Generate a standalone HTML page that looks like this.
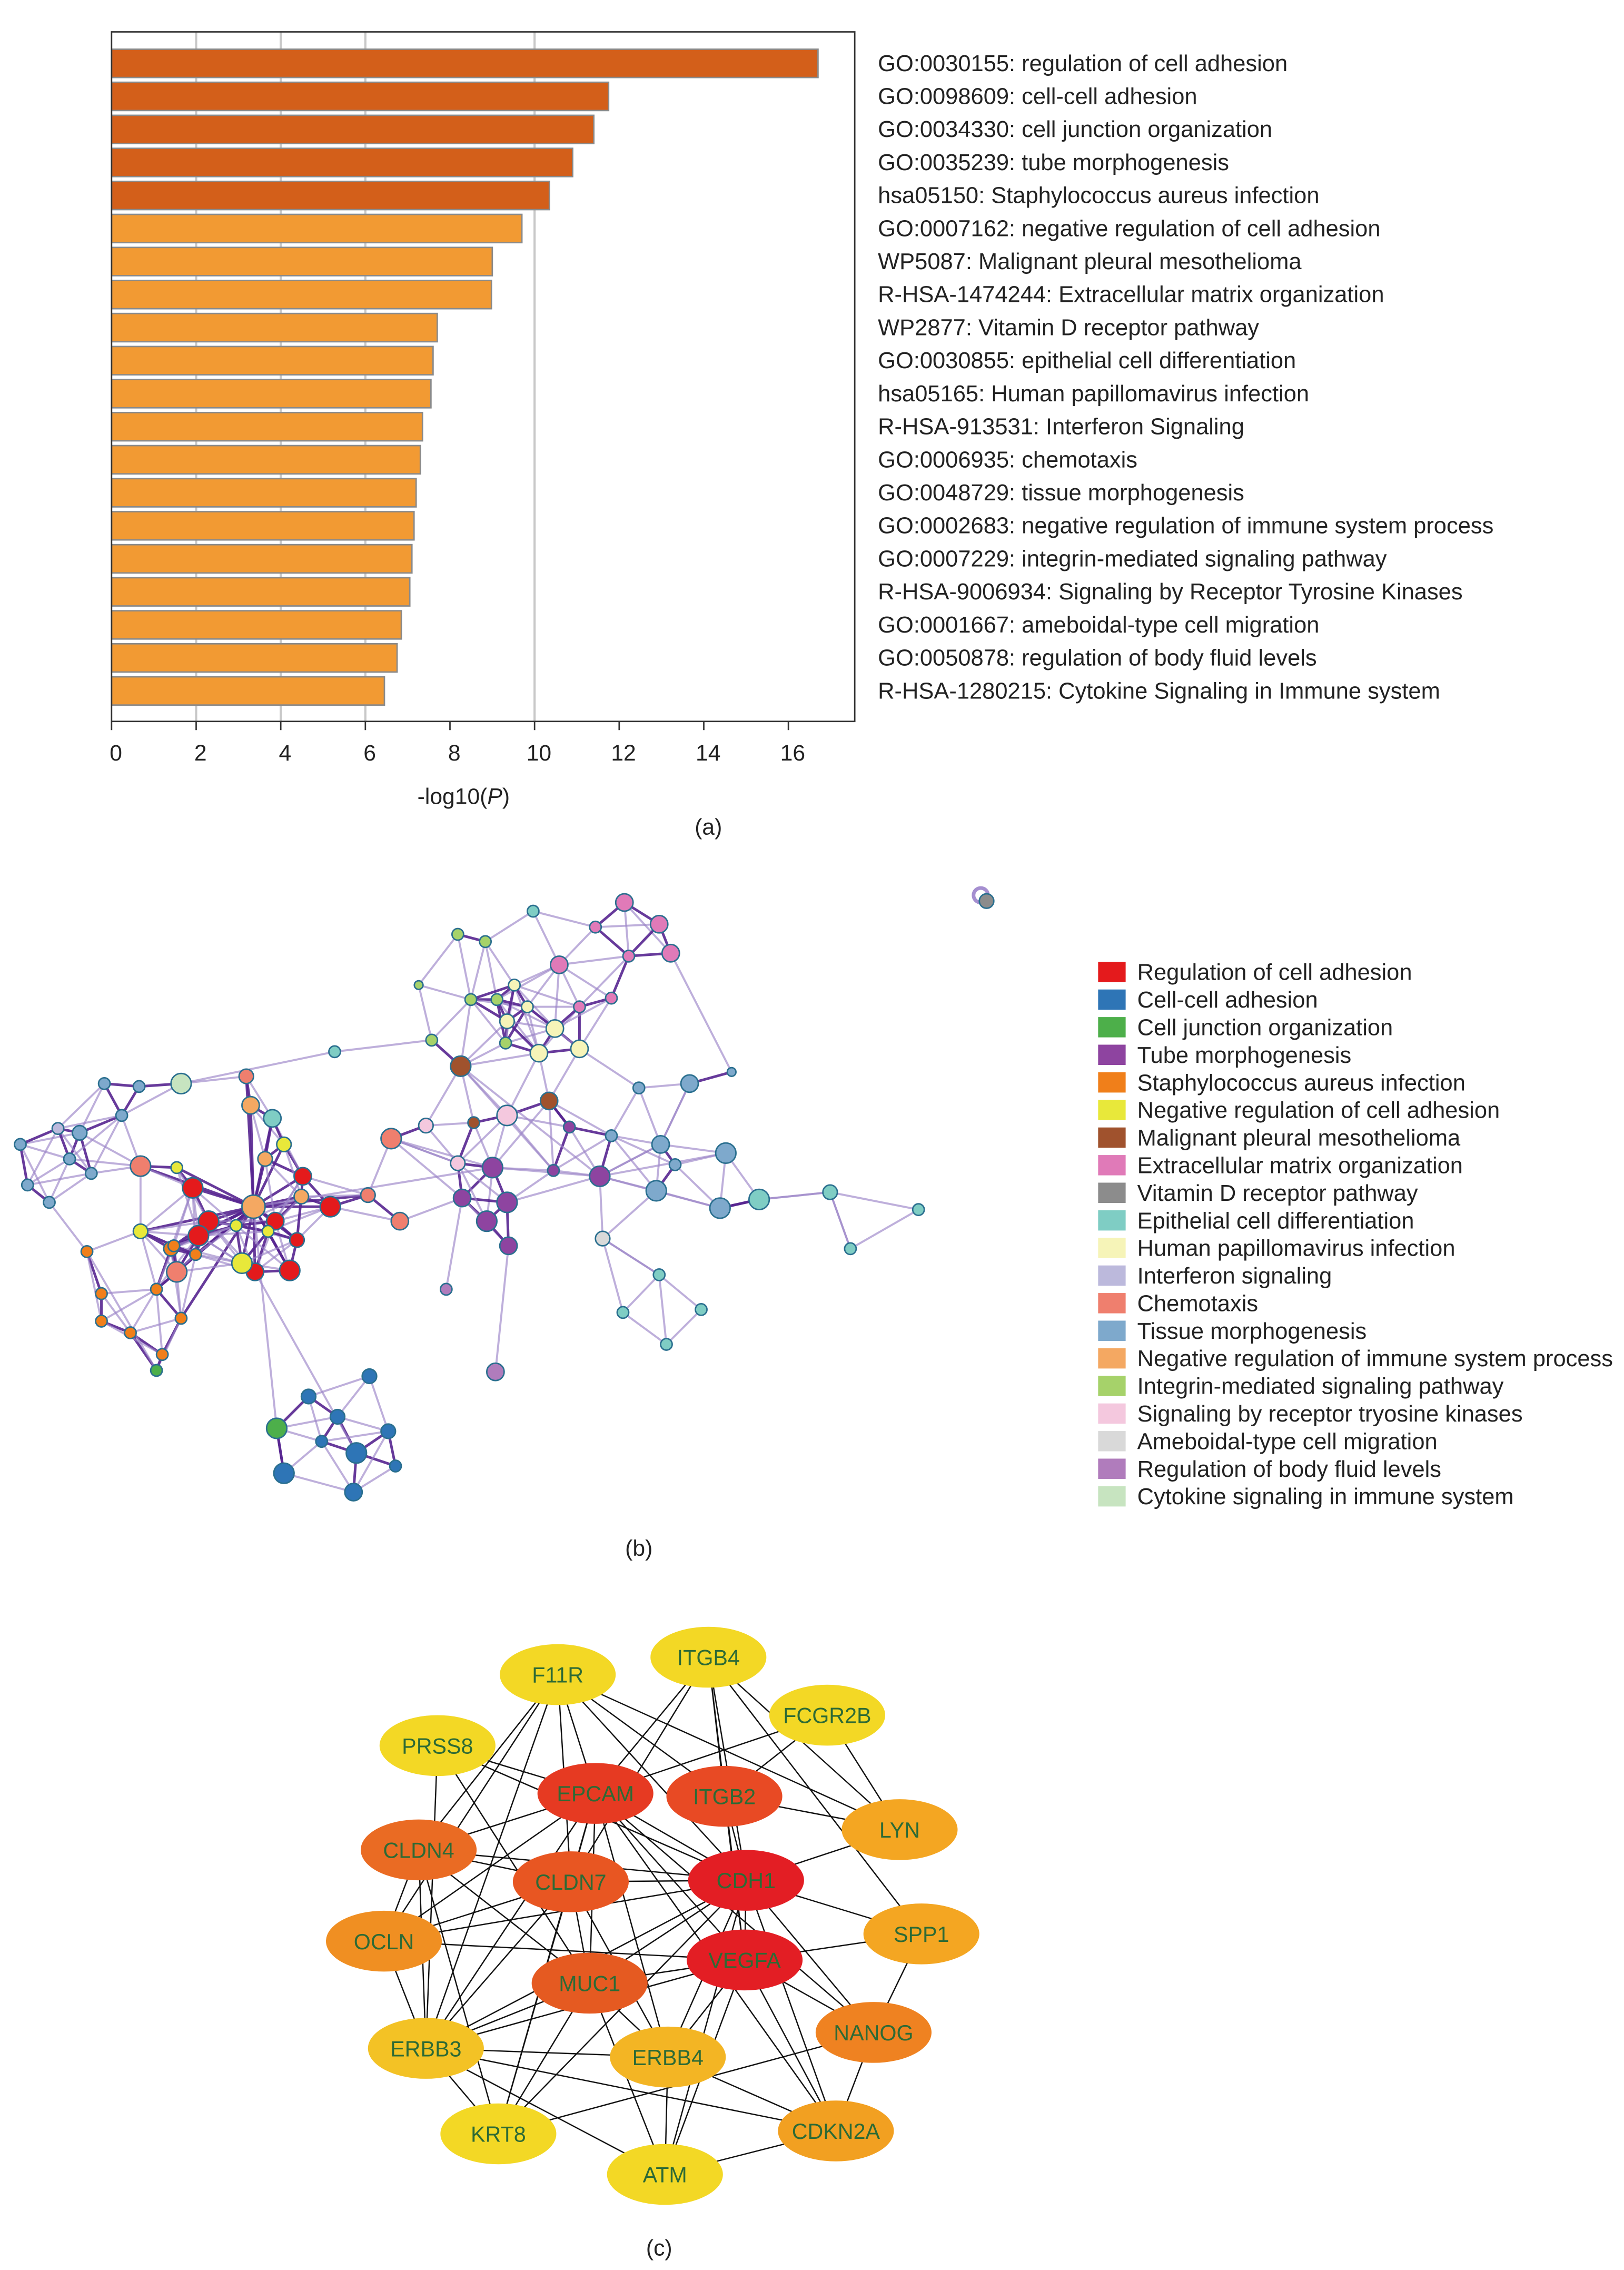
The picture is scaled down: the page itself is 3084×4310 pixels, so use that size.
<!DOCTYPE html>
<html><head><meta charset="utf-8"><style>
html,body{margin:0;padding:0;background:#fff;}
svg{display:block;font-family:"Liberation Sans",Arial,sans-serif;}
</style></head><body>
<svg id="fig" width="3084" height="4310" viewBox="0 0 1121 1567" preserveAspectRatio="none" xmlns="http://www.w3.org/2000/svg">
<g id="pa"></g>
<g id="pb"></g>
<g id="pc"></g>
</svg>
<script>
const NS="http://www.w3.org/2000/svg";
function mk(tag,attrs,parent,txt){const e=document.createElementNS(NS,tag);for(const k in attrs)e.setAttribute(k,attrs[k]);if(txt!==undefined)e.textContent=txt;parent.appendChild(e);return e;}

// ---------- Panel A data ----------
const termLabels=["GO:0030155: regulation of cell adhesion","GO:0098609: cell-cell adhesion","GO:0034330: cell junction organization","GO:0035239: tube morphogenesis","hsa05150: Staphylococcus aureus infection","GO:0007162: negative regulation of cell adhesion","WP5087: Malignant pleural mesothelioma","R-HSA-1474244: Extracellular matrix organization","WP2877: Vitamin D receptor pathway","GO:0030855: epithelial cell differentiation","hsa05165: Human papillomavirus infection","R-HSA-913531: Interferon Signaling","GO:0006935: chemotaxis","GO:0048729: tissue morphogenesis","GO:0002683: negative regulation of immune system process","GO:0007229: integrin-mediated signaling pathway","R-HSA-9006934: Signaling by Receptor Tyrosine Kinases","GO:0001667: ameboidal-type cell migration","GO:0050878: regulation of body fluid levels","R-HSA-1280215: Cytokine Signaling in Immune system"];
const logP=[16.7,11.75,11.4,10.9,10.35,9.7,9.0,8.98,7.7,7.6,7.55,7.35,7.3,7.2,7.15,7.1,7.05,6.85,6.75,6.45];
const xTicks=[0,2,4,6,8,10,12,14,16];
const gridVals=[2,4,6,10];

const pa=document.getElementById('pa');
const ax0=77,ax1=590,ay0=22,ay1=498;
const xs=v=>ax0+v*29.2;
const barY=i=>34+i*22.8;
for(const g of gridVals){const l=mk('line',{x1:xs(g),x2:xs(g),y1:ay0,y2:ay1,stroke:'#c8c8c8','stroke-width':1.5},pa);

}
logP.forEach((v,i)=>{const r=mk('rect',{x:ax0,y:barY(i),width:xs(v)-ax0,height:19.5,fill:i<5?'#d35f1a':'#f29a33',stroke:'#8a8a8a','stroke-width':1},pa);


const t=mk('text',{x:606,y:barY(i)+15,'font-size':15.8,fill:'#222'},pa,termLabels[i]);

});
const frame=mk('rect',{x:ax0,y:ay0,width:ax1-ax0,height:ay1-ay0,fill:'none',stroke:'#333','stroke-width':1},pa);


for(const t of xTicks){const l=mk('line',{x1:xs(t),x2:xs(t),y1:ay1,y2:ay1+6,stroke:'#333'},pa);


const tx=mk('text',{x:xs(t)+3,y:525,'font-size':15.5,'text-anchor':'middle',fill:'#222'},pa,String(t));

}
const xt=mk('text',{x:320,y:555,'font-size':15.5,'text-anchor':'middle',fill:'#222'},pa);
xt.innerHTML='-log10(<tspan font-style="italic">P</tspan>)';


const ca=mk('text',{x:489,y:576,'font-size':15.5,'text-anchor':'middle',fill:'#222'},pa,'(a)');



// ---------- Panel B data ----------
const legendNames=["Regulation of cell adhesion","Cell-cell adhesion","Cell junction organization","Tube morphogenesis","Staphylococcus aureus infection","Negative regulation of cell adhesion","Malignant pleural mesothelioma","Extracellular matrix organization","Vitamin D receptor pathway","Epithelial cell differentiation","Human papillomavirus infection","Interferon signaling","Chemotaxis","Tissue morphogenesis","Negative regulation of immune system process","Integrin-mediated signaling pathway","Signaling by receptor tryosine kinases","Ameboidal-type cell migration","Regulation of body fluid levels","Cytokine signaling in immune system"];
const legendColors=["#e41a1c","#2e75b6","#4daf4a","#8e44a0","#f07f1a","#e8e83a","#a0522d","#e07ab8","#8c8c8c","#7fcdc4","#f6f4b8","#bcb9dc","#ef7f6e","#7ea9cc","#f4a862","#a6d26a","#f4c8de","#d9d9d9","#b07cbc","#c7e4c0"];
const bNodes=[
[175,833,8,14],[133,820,7,0],[144,843,7,0],[137,853,7,0],[176,878,6,0],[200,877,7,0],[190,843,6,0],[209,812,6,0],[228,833,7,0],[205,856,5,0],
[167,872,7,5],[122,806,4,5],[163,846,4,5],[185,850,4,5],[97,850,5,5],[196,790,5,5],[208,826,5,14],[183,800,5,14],[173,763,6,14],[170,743,5,12],
[118,862,5,4],[135,866,4,4],[60,864,4,4],[97,805,7,12],[270,786,7,12],[276,843,6,12],[254,825,5,12],[122,878,7,12],[188,772,6,9],
[55,782,5,13],[63,810,4,13],[40,779,4,11],[14,790,4,13],[19,818,4,13],[72,748,4,13],[96,750,4,13],[48,800,4,13],[34,830,4,13],[125,748,7,19],[84,770,4,13],
[70,893,4,4],[90,920,4,4],[125,910,4,4],[70,912,4,4],[108,890,4,4],[112,935,4,4],[120,860,4,4],
[108,946,4,2],[191,986,7,2],[196,1017,7,1],[213,964,5,1],[246,1003,7,1],[268,988,5,1],[273,1012,4,1],[255,950,5,1],[244,1030,6,1],[222,995,4,1],[233,978,5,1],
[340,806,7,3],[350,830,7,3],[319,827,6,3],[336,843,7,3],[414,812,7,3],[351,860,6,3],[308,890,4,18],[342,947,6,18],[382,808,4,3],[393,778,4,3],
[350,770,7,16],[316,803,5,16],[294,777,5,16],[416,855,5,17],[318,736,7,6],[379,760,6,6],[327,775,4,6],[231,726,4,9],
[316,645,4,15],[335,650,4,15],[298,718,4,15],[289,680,3,15],[325,690,4,15],[343,690,4,15],[349,720,4,15],[368,629,4,9],
[372,727,6,10],[400,724,6,10],[350,705,5,10],[383,710,6,10],[355,680,4,10],[364,695,4,10],
[431,623,6,7],[455,638,6,7],[463,658,6,7],[386,666,6,7],[422,689,4,7],[434,660,4,7],[411,640,4,7],[400,695,4,7],
[456,790,6,13],[501,796,7,13],[476,748,6,13],[497,834,7,13],[453,822,7,13],[441,751,4,13],[422,784,4,13],[505,740,3,13],[466,804,4,13],
[524,828,7,9],[573,823,5,9],[587,862,4,9],[634,835,4,9],[430,906,4,9],[460,928,4,9],[484,904,4,9],[455,880,4,9],[681,622,5,8]
];
const bLongEdges=[[38,75],[75,78],[0,58],[24,58],[24,60],[62,98],[62,101],[98,100],[101,107],[107,108],[108,109],[108,110],[109,110],[71,111],[71,114],[0,48],[4,51],[49,48],[47,22],[72,84],[72,62],[65,63],[64,60],[69,24],[92,105],[73,58],[58,62],[59,62],[62,99],[66,72],[67,73]];
const bThresh=50;

const pb=document.getElementById('pb');
const eg=mk('g',{},pb);


const lastB=bNodes.length-1;
function bEdge(a,b,hub){const A=bNodes[a],B=bNodes[b];if(!A||!B)return;
const d=Math.hypot(A[0]-B[0],A[1]-B[1]);
const dark=hub||d<32;
const l=mk('line',{x1:A[0],y1:A[1],x2:B[0],y2:B[1],stroke:dark?'#562590':'#9b84c8','stroke-opacity':dark?0.9:0.65,'stroke-width':dark?1.8:1.4},eg);

}
for(let i=0;i<bNodes.length;i++)for(let j=i+1;j<bNodes.length;j++){
if(i===lastB||j===lastB)continue;
const A=bNodes[i],B=bNodes[j];const d=Math.hypot(A[0]-B[0],A[1]-B[1]);
if(i===0&&d<95)bEdge(i,j,true);else if(d<bThresh)bEdge(i,j,false);}
bLongEdges.forEach(e=>bEdge(e[0],e[1],false));
const loop=mk('circle',{cx:677,cy:618,r:5,fill:'none',stroke:'#a58fd0','stroke-width':2.5},eg);


const ng=mk('g',{},pb);


bNodes.forEach(n=>{const c=mk('circle',{cx:n[0],cy:n[1],r:n[2],fill:legendColors[n[3]],stroke:'#2a6f8f','stroke-width':1},ng);

});
legendNames.forEach((nm,i)=>{const y=664+i*19.05;
const s=mk('rect',{x:758,y:y,width:19,height:14,fill:legendColors[i]},pb);


const t=mk('text',{x:785,y:y+12.5,'font-size':15.8,fill:'#222'},pb,nm);

});
const cb=mk('text',{x:441,y:1074,'font-size':15.5,'text-anchor':'middle',fill:'#222'},pb,'(b)');



// ---------- Panel C data ----------
const geneNames=["F11R","ITGB4","FCGR2B","PRSS8","EPCAM","ITGB2","LYN","CLDN4","CLDN7","CDH1","OCLN","SPP1","VEGFA","MUC1","NANOG","ERBB3","ERBB4","KRT8","CDKN2A","ATM"];
const geneX=[385,489,571,302,411,500,621,289,394,515,265,636,514,407,603,294,461,344,577,459];
const geneY=[1156,1144,1184,1205,1238,1240,1263,1277,1299,1298,1340,1335,1353,1369,1403,1414,1420,1473,1471,1501];
const geneColors=["#f3d825","#f3d825","#f3d825","#f3d825","#e63a22","#e84a24","#f4a622","#ea6b23","#e85622","#e31e24","#f08f22","#f4a622","#e31e24","#e55a21","#ef8221","#f3c225","#f3b524","#f3d825","#f2a021","#f3d825"];
const ppiEdges=[["F11R","EPCAM"],["F11R","CDH1"],["F11R","ITGB2"],["F11R","LYN"],["F11R","CLDN4"],["F11R","OCLN"],["F11R","ERBB3"],["F11R","CLDN7"],
["ITGB4","EPCAM"],["ITGB4","ITGB2"],["ITGB4","CDH1"],["ITGB4","LYN"],["ITGB4","SPP1"],["ITGB4","CLDN7"],["ITGB4","VEGFA"],
["FCGR2B","EPCAM"],["FCGR2B","ITGB2"],["FCGR2B","LYN"],["PRSS8","EPCAM"],["PRSS8","CDH1"],["PRSS8","ERBB3"],["PRSS8","MUC1"],
["EPCAM","CLDN4"],["EPCAM","CLDN7"],["EPCAM","CDH1"],["EPCAM","VEGFA"],["EPCAM","MUC1"],["EPCAM","OCLN"],["EPCAM","ERBB3"],["EPCAM","KRT8"],["EPCAM","ERBB4"],["EPCAM","CDKN2A"],["EPCAM","NANOG"],
["ITGB2","LYN"],["ITGB2","CDH1"],["ITGB2","VEGFA"],["LYN","CDH1"],
["CLDN4","CLDN7"],["CLDN4","CDH1"],["CLDN4","OCLN"],["CLDN4","ERBB3"],["CLDN4","KRT8"],["CLDN4","MUC1"],
["CLDN7","CDH1"],["CLDN7","OCLN"],["CLDN7","MUC1"],["CLDN7","ERBB3"],["CLDN7","KRT8"],["CLDN7","ERBB4"],
["CDH1","VEGFA"],["CDH1","SPP1"],["CDH1","NANOG"],["CDH1","OCLN"],["CDH1","MUC1"],["CDH1","ERBB3"],["CDH1","ERBB4"],["CDH1","CDKN2A"],["CDH1","ATM"],["CDH1","KRT8"],
["OCLN","VEGFA"],["OCLN","ERBB3"],["SPP1","VEGFA"],["SPP1","NANOG"],
["VEGFA","MUC1"],["VEGFA","ERBB3"],["VEGFA","ERBB4"],["VEGFA","CDKN2A"],["VEGFA","ATM"],["VEGFA","NANOG"],
["MUC1","ERBB3"],["MUC1","ERBB4"],["MUC1","KRT8"],["MUC1","ATM"],["NANOG","KRT8"],["NANOG","CDKN2A"],
["ERBB3","ERBB4"],["ERBB3","CDKN2A"],["ERBB3","ATM"],["ERBB3","KRT8"],["ERBB4","CDKN2A"],["ERBB4","ATM"],["CDKN2A","ATM"]];

const pc=document.getElementById('pc');
const gi=n=>geneNames.indexOf(n);
ppiEdges.forEach(e=>{const a=gi(e[0]),b=gi(e[1]);if(a<0||b<0)return;
const l=mk('line',{x1:geneX[a],y1:geneY[a],x2:geneX[b],y2:geneY[b],stroke:'#111','stroke-width':0.9},pc);

});
geneNames.forEach((g,i)=>{const el=mk('ellipse',{cx:geneX[i],cy:geneY[i],rx:40,ry:21,fill:geneColors[i]},pc);


const t=mk('text',{x:geneX[i],y:geneY[i]+5.5,'font-size':15,'text-anchor':'middle',fill:'#2d6a35'},pc,g);

});
const cc=mk('text',{x:455,y:1557,'font-size':15.5,'text-anchor':'middle',fill:'#222'},pc,'(c)');


</script>
</body></html>
